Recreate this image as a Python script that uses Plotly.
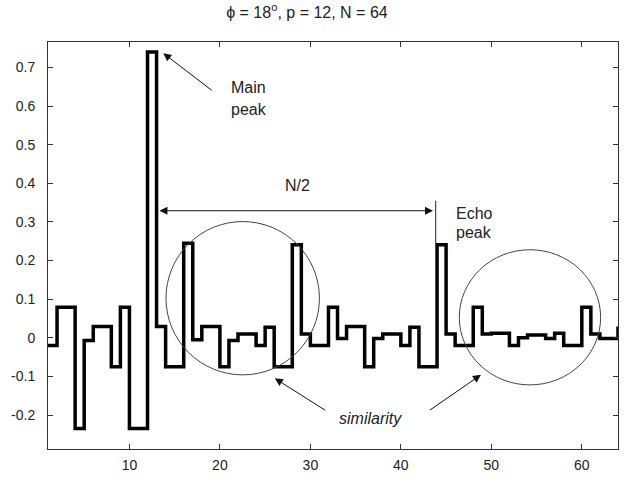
import plotly.graph_objects as go

# ---- data ----
n_index = list(range(1, 65))
values = [
    -0.02, 0.079, 0.079, -0.235, -0.007, 0.029, 0.029, -0.075,
    0.079, -0.235, -0.235, 0.74, 0.029, -0.075, -0.075, 0.245,
    -0.005, 0.029, 0.029, -0.075, -0.007, 0.01, 0.01, -0.02,
    0.027, -0.075, -0.075, 0.241, 0.01, -0.02, -0.02, 0.079,
    -0.002, 0.029, 0.029, -0.075, -0.002, 0.01, 0.01, -0.02,
    0.027, -0.075, -0.075, 0.241, 0.01, -0.02, -0.02, 0.079,
    0.01, 0.012, 0.012, -0.02, 0.0, 0.007, 0.007, -0.002,
    0.012, -0.02, -0.02, 0.079, 0.01, -0.002, -0.002, 0.029,
]
x_ticks = [10, 20, 30, 40, 50, 60]
y_ticks = [-0.2, -0.1, 0, 0.1, 0.2, 0.3, 0.4, 0.5, 0.6, 0.7]
y_tick_labels = ["-0.2", "-0.1", "0", "0.1", "0.2", "0.3", "0.4", "0.5", "0.6", "0.7"]
title_text = "ϕ = 18<sup>o</sup>, p = 12, N = 64"

FONT = "Liberation Sans, Arial, sans-serif"
TXT = "#222222"

fig = go.Figure()
fig.add_trace(go.Scatter(
    x=n_index, y=values, mode="lines", line_shape="hv",
    line=dict(color="black", width=3.5), showlegend=False, hoverinfo="skip",
))

# circles marking similarity regions
fig.add_shape(type="circle", xref="x", yref="y", x0=14.04, x1=31.0, y0=-0.096, y1=0.301,
              line=dict(color="#444444", width=1))
fig.add_shape(type="circle", xref="x", yref="y", x0=46.46, x1=62.08, y0=-0.122, y1=0.228,
              line=dict(color="#444444", width=1))
# vertical marker line at echo peak
fig.add_shape(type="line", xref="x", yref="y", x0=43.85, x1=43.85, y0=0.355, y1=0.245,
              line=dict(color="#222222", width=1))

ann_font = dict(family=FONT, size=16, color=TXT)
arrow_common = dict(showarrow=True, arrowhead=2, arrowsize=1.6, arrowwidth=1,
                    arrowcolor="#111111", axref="x", ayref="y", text="")

# Main peak arrow
fig.add_annotation(x=13.74, y=0.737, ax=19.26, ay=0.638, **arrow_common)
fig.add_annotation(x=21.0, y=0.648, text="Main", showarrow=False, xanchor="left",
                   yanchor="middle", font=ann_font)
fig.add_annotation(x=21.0, y=0.592, text="peak", showarrow=False, xanchor="left",
                   yanchor="middle", font=ann_font)
# N/2 double arrow
fig.add_annotation(x=43.55, y=0.329, ax=13.15, ay=0.329, arrowside="end+start", **arrow_common)
fig.add_annotation(x=28.6, y=0.395, text="N/2", showarrow=False, font=ann_font)
# Echo peak
fig.add_annotation(x=45.9, y=0.322, text="Echo", showarrow=False, xanchor="left",
                   yanchor="middle", font=ann_font)
fig.add_annotation(x=45.9, y=0.273, text="peak", showarrow=False, xanchor="left",
                   yanchor="middle", font=ann_font)
# similarity arrows
fig.add_annotation(x=26.07, y=-0.105, ax=31.8, ay=-0.19, **arrow_common)
fig.add_annotation(x=48.85, y=-0.096, ax=43.04, ay=-0.19, **arrow_common)
fig.add_annotation(x=36.6, y=-0.21, text="<i>similarity</i>", showarrow=False, font=ann_font)

axis_common = dict(showline=True, linecolor="#333333", linewidth=1, mirror="ticks",
                   ticks="inside", ticklen=5, tickcolor="#333333", showgrid=False,
                   zeroline=False, tickfont=dict(family=FONT, size=14, color=TXT))

fig.update_xaxes(range=[1, 64], tickvals=x_ticks, ticklabelstandoff=3, **axis_common)
fig.update_yaxes(range=[-0.288, 0.766], tickvals=y_ticks, ticktext=y_tick_labels,
                 ticklabelstandoff=9, **axis_common)

fig.update_layout(
    width=629, height=483,
    margin=dict(l=48, r=10, t=42, b=30),
    paper_bgcolor="white", plot_bgcolor="white",
    title=dict(text=title_text, x=0.488, xanchor="center", y=0.975, yanchor="middle",
               font=dict(family=FONT, size=16, color=TXT)),
)

fig.write_html("out.html", config={"displayModeBar": False},
               post_script="document.body.style.margin='0';document.body.style.overflow='hidden';")
